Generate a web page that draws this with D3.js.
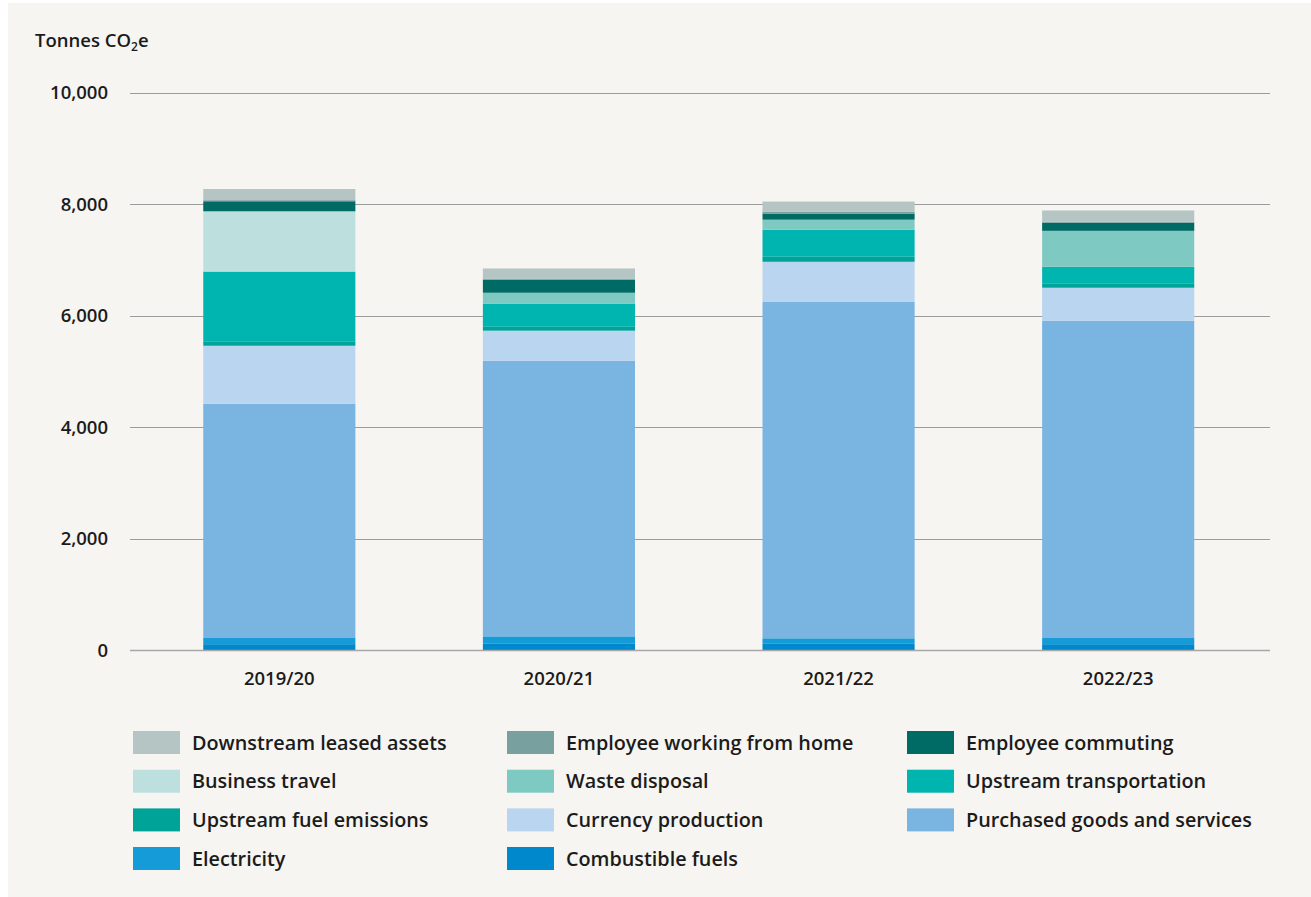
<!DOCTYPE html>
<html>
<head>
<meta charset="utf-8">
<script src="https://cdn.jsdelivr.net/npm/d3@7"></script>
<style>
  html, body { margin: 0; padding: 0; background: #ffffff; }
  svg { display: block; font-family: "Open Sans", Lato, sans-serif; }
</style>
</head>
<body>
<svg id="chart" width="1311" height="897"></svg>
<script>
// Financial years on the x axis
const years = ["2019/20", "2020/21", "2021/22", "2022/23"];

// Emission sources, bottom of the stack first
const sources = [
  "Combustible fuels", "Electricity", "Purchased goods and services",
  "Currency production", "Upstream fuel emissions", "Upstream transportation",
  "Waste disposal", "Business travel", "Employee commuting",
  "Employee working from home", "Downstream leased assets"
];

// Tonnes CO2e per source, one value per year
const combustibleFuels   = [110, 125, 125, 110];
const electricity        = [110, 125, 90, 110];
const purchasedGoods     = [4200, 4940, 6030, 5690];
const currencyProduction = [1040, 540, 720, 590];
const upstreamFuel       = [70, 70, 90, 70];
const upstreamTransport  = [1260, 410, 485, 305];
const wasteDisposal      = [0, 200, 180, 645];
const businessTravel     = [1080, 0, 0, 0];
const employeeCommuting  = [180, 235, 110, 145];
const workingFromHome    = [20, 20, 35, 20];
const downstreamLeased   = [200, 180, 180, 200];

const yTicks = [0, 2000, 4000, 6000, 8000, 10000];

// Legend reading order (three columns, row by row)
const legendOrder = [
  "Downstream leased assets", "Employee working from home", "Employee commuting",
  "Business travel", "Waste disposal", "Upstream transportation",
  "Upstream fuel emissions", "Currency production", "Purchased goods and services",
  "Electricity", "Combustible fuels"
];

const seriesValues = [
  combustibleFuels, electricity, purchasedGoods, currencyProduction, upstreamFuel,
  upstreamTransport, wasteDisposal, businessTravel, employeeCommuting,
  workingFromHome, downstreamLeased
];

const colors = {
  "Combustible fuels": "#0088cd",
  "Electricity": "#159bd8",
  "Purchased goods and services": "#7ab4e1",
  "Currency production": "#bad5ef",
  "Upstream fuel emissions": "#00a398",
  "Upstream transportation": "#00b4b0",
  "Waste disposal": "#7fc9c3",
  "Business travel": "#bde0de",
  "Employee commuting": "#006b65",
  "Employee working from home": "#78a09f",
  "Downstream leased assets": "#b4c5c4"
};

// Build row objects for d3.stack
const table = years.map((y, i) => {
  const row = { year: y };
  sources.forEach((s, k) => { row[s] = seriesValues[k][i]; });
  return row;
});

const svg = d3.select("#chart");
const textColor = "#1b1b1b";

// Panel background
svg.append("rect")
  .attr("x", 8).attr("y", 3)
  .attr("width", 1303).attr("height", 894)
  .attr("fill", "#f6f5f1");

const y = d3.scaleLinear().domain([0, 10000]).range([650.3, 92.5]);
const x = d3.scaleBand().domain(years).range([139.5, 1258]).paddingInner(0.456).paddingOuter(0.228);

// Gridlines
svg.append("g")
  .selectAll("line")
  .data(yTicks)
  .join("line")
  .attr("x1", 130).attr("x2", 1270)
  .attr("y1", d => Math.round(y(d)) + 0.5)
  .attr("y2", d => Math.round(y(d)) + 0.5)
  .attr("stroke", "#9c9c9c")
  .attr("stroke-width", 1);

// Y tick labels
svg.append("g")
  .selectAll("text")
  .data(yTicks)
  .join("text")
  .attr("x", 108)
  .attr("y", d => y(d))
  .attr("dy", "0.36em")
  .attr("text-anchor", "end")
  .attr("font-size", 18.5)
  .attr("font-weight", 600)
  .attr("fill", textColor)
  .text(d => d3.format(",")(d));

// Unit label
const unit = svg.append("text")
  .attr("x", 35).attr("y", 47)
  .attr("font-size", 18.5)
  .attr("font-weight", 600)
  .attr("fill", textColor);
unit.append("tspan").text("Tonnes CO");
unit.append("tspan").attr("font-size", 12).attr("dy", 4).text("2");
unit.append("tspan").attr("dy", -4).text("e");

// Stacked bars
const stack = d3.stack().keys(sources);
const layers = stack(table);

svg.append("g")
  .selectAll("g")
  .data(layers)
  .join("g")
  .attr("fill", d => colors[d.key])
  .selectAll("rect")
  .data(d => d)
  .join("rect")
  .attr("x", d => x(d.data.year))
  .attr("width", x.bandwidth())
  .attr("y", d => y(d[1]))
  .attr("height", d => Math.max(0, y(d[0]) - y(d[1])));

// Baseline on top of the bars
svg.append("line")
  .attr("x1", 130).attr("x2", 1270)
  .attr("y1", 650.5).attr("y2", 650.5)
  .attr("stroke", "#a8a8a8")
  .attr("stroke-width", 1.5);

// X labels
svg.append("g")
  .selectAll("text")
  .data(years)
  .join("text")
  .attr("x", d => x(d) + x.bandwidth() / 2)
  .attr("y", 685)
  .attr("text-anchor", "middle")
  .attr("font-size", 18.5)
  .attr("font-weight", 600)
  .attr("fill", textColor)
  .text(d => d);

// Legend
const colX = [133, 507, 907];
const rowY = [731, 769.7, 808.4, 847];
const legend = svg.append("g")
  .selectAll("g")
  .data(legendOrder)
  .join("g")
  .attr("transform", (d, i) => `translate(${colX[i % 3]},${rowY[Math.floor(i / 3)]})`);

legend.append("rect")
  .attr("width", 47).attr("height", 23)
  .attr("fill", d => colors[d]);

legend.append("text")
  .attr("x", 59).attr("y", 11.5)
  .attr("dy", "0.36em")
  .attr("font-size", 19.8)
  .attr("font-weight", 600)
  .attr("fill", textColor)
  .text(d => d);
</script>
</body>
</html>
